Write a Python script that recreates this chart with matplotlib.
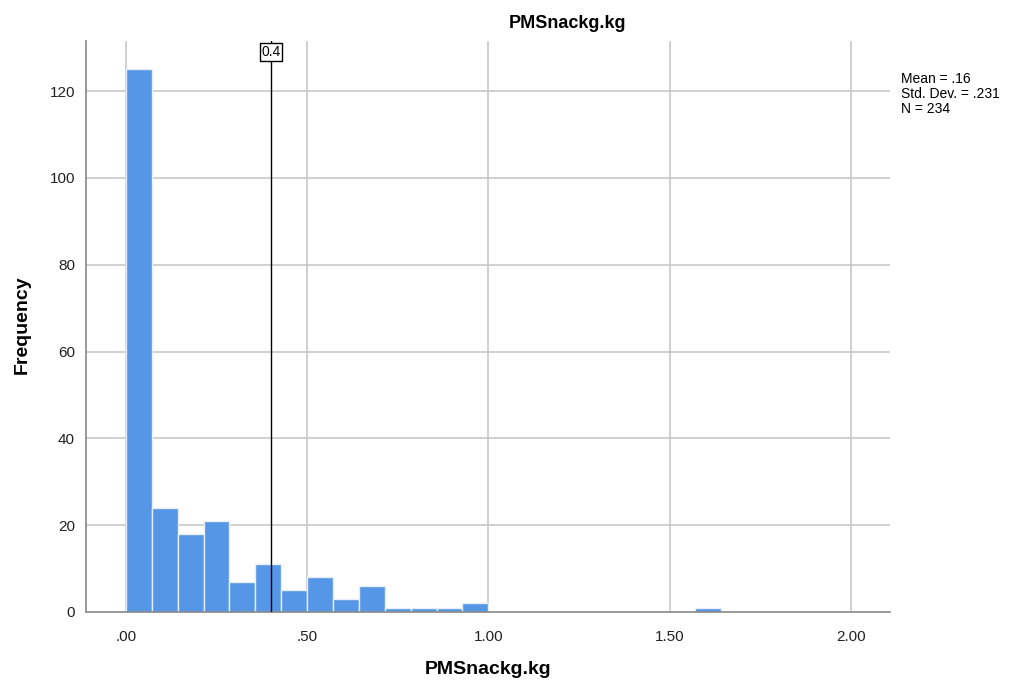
import matplotlib
matplotlib.use("Agg")
import matplotlib.pyplot as plt
import numpy as np

plt.rcParams['font.family'] = ['Liberation Sans', 'DejaVu Sans']

# Data
bin_width = 1 / 14
counts = [125, 24, 18, 21, 7, 11, 5, 8, 3, 6, 1, 1, 1, 2,
          0, 0, 0, 0, 0, 0, 0, 0, 1]
bin_lefts = np.arange(len(counts)) * bin_width
x_ticks = [0.0, 0.5, 1.0, 1.5, 2.0]
x_tick_labels = [".00", ".50", "1.00", "1.50", "2.00"]
y_ticks = [0, 20, 40, 60, 80, 100, 120]
ref_value = 0.4
title = "PMSnackg.kg"
stats_text = "Mean = .16\nStd. Dev. = .231\nN = 234"

fig = plt.figure(figsize=(10.12, 6.88), dpi=100)
ax = fig.add_axes([0.085, 0.1105, 0.7944, 0.8303])

grid_c = "#c8c8c8"
for xt in x_ticks:
    ax.axvline(xt, color=grid_c, lw=1.2, zorder=0)
for yt in y_ticks[1:]:
    ax.axhline(yt, color=grid_c, lw=1.2, zorder=0)

ax.bar(bin_lefts, counts, width=bin_width, align='edge',
       color="#5596e6", edgecolor="#e6eefa", linewidth=1.0, zorder=2)

ax.axvline(ref_value, color="black", lw=1.0, zorder=3)
ax.text(ref_value, 129, "0.4", ha='center', va='center', fontsize=10,
        bbox=dict(boxstyle='square,pad=0.12', fc='white', ec='black', lw=1.0),
        zorder=4)

ax.set_xlim(-0.110, 2.108)
ax.set_ylim(0, 131.6)
ax.set_xticks(x_ticks)
ax.set_xticklabels(x_tick_labels)
ax.set_yticks(y_ticks)
ax.tick_params(axis='both', length=0, labelsize=11, colors="#222222")
ax.tick_params(axis='x', pad=13)
ax.tick_params(axis='y', pad=8)

for s in ['top', 'right']:
    ax.spines[s].set_visible(False)
for s in ['left', 'bottom']:
    ax.spines[s].set_color("#888888")
    ax.spines[s].set_linewidth(1.2)

ax.set_xlabel(title, fontsize=14, fontweight='bold', labelpad=12)
fig.text(22 / 1012, 1 - 325 / 688, "Frequency", rotation=90, ha='center',
         va='center', fontsize=14, fontweight='bold')

fig.text(568 / 1012, 1 - 23 / 688, title, ha='center', va='center',
         fontsize=13, fontweight='bold')
fig.text(901 / 1012, 1 - 72 / 688, stats_text, ha='left', va='top',
         fontsize=10, linespacing=1.1)

fig.savefig("out.png", dpi=100)
